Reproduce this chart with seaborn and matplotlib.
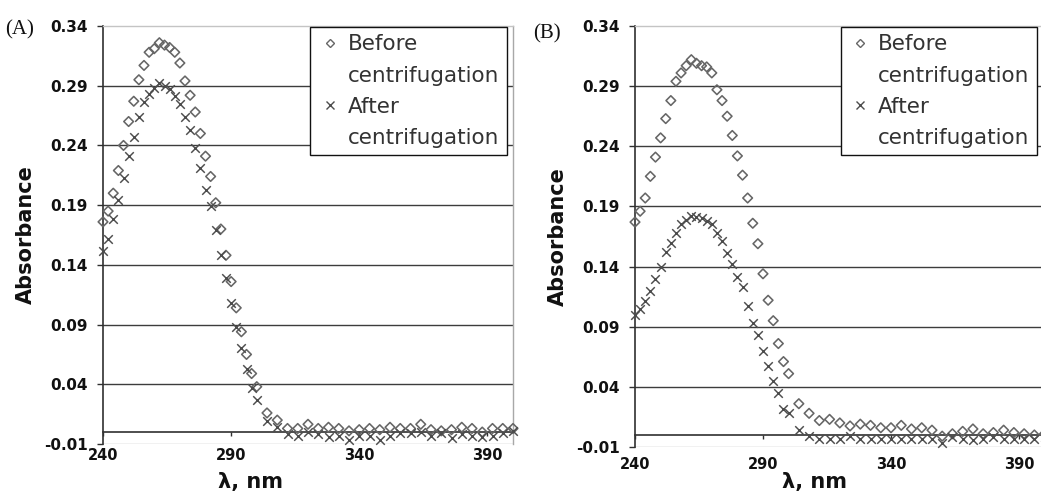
import matplotlib
matplotlib.use("Agg")
import matplotlib.pyplot as plt
from matplotlib.lines import Line2D
import seaborn as sns
import pandas as pd

# ---------------- data ----------------
wavelength = [240, 242, 244, 246, 248, 250, 252, 254, 256, 258, 260, 262, 264, 266, 268, 270,
              272, 274, 276, 278, 280, 282, 284, 286, 288, 290, 292, 294, 296, 298, 300,
              304, 308, 312, 316, 320, 324, 328, 332, 336, 340, 344, 348, 352, 356, 360,
              364, 368, 372, 376, 380, 384, 388, 392, 396, 400]

a_before = [0.176, 0.185, 0.200, 0.219, 0.240, 0.260, 0.277, 0.295, 0.307, 0.318, 0.321, 0.326,
            0.324, 0.322, 0.318, 0.309, 0.294, 0.282, 0.268, 0.250, 0.231, 0.214, 0.192, 0.170,
            0.148, 0.126, 0.104, 0.084, 0.065, 0.049, 0.038,
            0.016, 0.010, 0.003, 0.003, 0.0065, 0.003, 0.004, 0.003, 0.001, 0.002, 0.003, 0.002,
            0.004, 0.003, 0.003, 0.0065, 0.002, 0.001, 0.002, 0.004, 0.003, 0.000, 0.003, 0.003,
            0.003]

a_after = [0.152, 0.162, 0.178, 0.194, 0.213, 0.231, 0.247, 0.264, 0.276, 0.283, 0.288, 0.292,
           0.290, 0.287, 0.281, 0.275, 0.264, 0.253, 0.238, 0.221, 0.203, 0.189, 0.169, 0.148,
           0.129, 0.108, 0.088, 0.070, 0.053, 0.037, 0.027,
           0.009, 0.004, -0.002, -0.0035, 0.000, -0.002, -0.004, -0.003, -0.0065, -0.003, -0.003,
           -0.0065, -0.003, -0.001, -0.001, 0.000, -0.003, -0.001, -0.005, -0.002, -0.003, -0.004,
           -0.003, -0.001, 0.001]

b_before = [0.177, 0.186, 0.197, 0.215, 0.231, 0.247, 0.263, 0.278, 0.294, 0.301, 0.307, 0.312,
            0.309, 0.307, 0.306, 0.301, 0.287, 0.278, 0.265, 0.249, 0.232, 0.216, 0.197, 0.176,
            0.159, 0.134, 0.112, 0.095, 0.076, 0.061, 0.051,
            0.026, 0.018, 0.012, 0.013, 0.010, 0.0075, 0.009, 0.008, 0.006, 0.006, 0.008, 0.005,
            0.006, 0.004, -0.001, 0.001, 0.003, 0.005, 0.001, 0.002, 0.004, 0.002, 0.001, 0.000,
            0.001]

b_after = [0.100, 0.105, 0.111, 0.120, 0.130, 0.140, 0.152, 0.160, 0.168, 0.175, 0.179, 0.182,
           0.181, 0.180, 0.178, 0.175, 0.168, 0.161, 0.151, 0.142, 0.131, 0.123, 0.107, 0.093,
           0.083, 0.070, 0.057, 0.045, 0.035, 0.022, 0.018,
           0.004, -0.001, -0.003, -0.003, -0.003, -0.001, -0.003, -0.003, -0.003, -0.003, -0.003,
           -0.003, -0.003, -0.003, -0.007, -0.002, -0.003, -0.004, -0.003, -0.002, -0.003, -0.003,
           -0.003, -0.003, -0.002]

legend_lines = ["Before", "centrifugation", "After", "centrifugation"]
panel_labels = ["(A)", "(B)"]
x_ticks = [240, 290, 340, 390]
y_ticks = [-0.01, 0.04, 0.09, 0.14, 0.19, 0.24, 0.29, 0.34]
x_label = "λ, nm"
y_label = "Absorbance"

# ---------------- style ----------------
sns.set_style("white")
plt.rcParams["font.family"] = ["DejaVu Sans"]
plt.rcParams["axes.unicode_minus"] = False

fig = plt.figure(figsize=(10.41, 4.98), dpi=100)
W, H = 1041, 498
axA = fig.add_axes([103 / W, 1 - 444 / H, 410 / W, 418 / H])
axB = fig.add_axes([635 / W, 1 - 447 / H, 409.6 / W, 421 / H])

DIAMOND_EDGE = "#666666"
X_COLOR = "#4c4c4c"

panels = [
    (axA, a_before, a_after, panel_labels[0], (5, 30), 0.359, -0.067, 8.5, 0.985),
    (axB, b_before, b_after, panel_labels[1], (533, 34), 0.439, -0.059, 13.0, 0.982),
]

for ax, before, after, plabel, ppos, xlx, xly, xpad, legx in panels:
    df_b = pd.DataFrame({"wavelength": wavelength, "absorbance": before})
    df_a = pd.DataFrame({"wavelength": wavelength, "absorbance": after})
    sns.scatterplot(data=df_b, x="wavelength", y="absorbance", ax=ax, marker="D",
                    s=24, facecolor="none", edgecolor=DIAMOND_EDGE, linewidth=1.15,
                    clip_on=False, zorder=4)
    sns.scatterplot(data=df_a, x="wavelength", y="absorbance", ax=ax, marker="x",
                    s=38, color=X_COLOR, linewidth=1.05, clip_on=False, zorder=5)

    ax.set_xlim(240, 400)
    ax.set_ylim(y_ticks[0], y_ticks[-1])
    ax.set_xticks(x_ticks)
    ax.set_yticks(y_ticks)
    ax.set_yticklabels([f"{v:.2f}" for v in y_ticks])

    # gridlines
    ax.yaxis.grid(True, color="#3c3c3c", linewidth=1.0)
    ax.xaxis.grid(False)
    ax.set_axisbelow(True)

    # spines
    ax.spines["left"].set_color("#303030")
    ax.spines["left"].set_linewidth(1.2)
    ax.spines["top"].set_color("#c4c4c4")
    ax.spines["right"].set_color("#a8a8a8")
    ax.spines["top"].set_linewidth(1.0)
    ax.spines["right"].set_linewidth(1.0)
    ax.spines["bottom"].set_position(("data", 0))
    ax.spines["bottom"].set_color("#303030")
    ax.spines["bottom"].set_linewidth(1.2)
    ax.axhline(y_ticks[0], color="#b8b8b8", linewidth=1.0, zorder=1)

    ax.tick_params(axis="y", which="major", direction="out", length=4, width=1,
                   color="#303030", pad=7, labelsize=11, left=True)
    ax.tick_params(axis="x", which="major", direction="out", length=3, width=1,
                   color="#303030", pad=xpad, labelsize=10.5, bottom=True)
    for lab in ax.get_xticklabels() + ax.get_yticklabels():
        lab.set_fontweight("bold")
        lab.set_color("#111111")

    ax.set_xlabel(x_label, fontsize=15, fontweight="bold", color="#111111")
    ax.set_ylabel(y_label, fontsize=15, fontweight="bold", color="#111111")
    ax.xaxis.set_label_coords(xlx, xly)
    ax.yaxis.set_label_coords(-0.163, 0.5)

    # legend
    handles = [
        Line2D([], [], marker="D", linestyle="none", markerfacecolor="none",
               markeredgecolor=DIAMOND_EDGE, markersize=4.5, markeredgewidth=1.0),
        Line2D([], [], linestyle="none", marker=None),
        Line2D([], [], marker="x", linestyle="none", color=X_COLOR,
               markersize=6, markeredgewidth=1.0),
        Line2D([], [], linestyle="none", marker=None),
    ]
    leg = ax.legend(handles, legend_lines, loc="upper right",
                    bbox_to_anchor=(legx, 0.998), borderaxespad=0,
                    fontsize=15.5, frameon=True, fancybox=False, framealpha=1,
                    edgecolor="#111111", handlelength=1.1, handletextpad=0.3,
                    labelspacing=0.52, borderpad=0.35)
    leg.get_frame().set_linewidth(1.0)
    for t in leg.get_texts():
        t.set_color("#333333")
    leg.set_zorder(10)

    fig.text(ppos[0] / W, 1 - ppos[1] / H, plabel, fontsize=15,
             family="Liberation Serif", ha="left", va="center", color="#111111")

# hide gridlines at the axis limits (borders drawn separately)
fig.canvas.draw()
for ax in (axA, axB):
    gls = ax.yaxis.get_gridlines()
    gls[0].set_visible(False)
    gls[-1].set_visible(False)

fig.savefig("out.png", dpi=100)
